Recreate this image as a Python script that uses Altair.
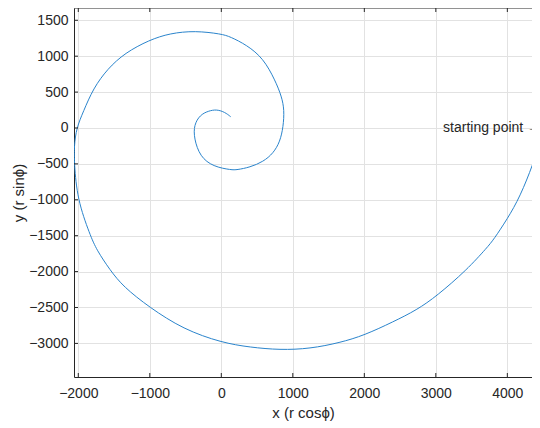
import altair as alt
import pandas as pd

# spiral points (outer start -> inner end)
x_vals = [4457, 4364, 4178, 4000, 3804, 3723, 3432, 3013, 2733, 2406, 2000, 1660, 1241, 821,
          401, 6, -531, -1007, -1371, -1557, -1743, -1836, -2014, -2056, -2058, -2025,
          -1930, -1790, -1590, -1348, -1007, -717, -368, 6, 122, 355, 587, 751, 845, 881,
          867, 821, 727, 587, 401, 215, 145, -112, -298, -382, -382, -298, -182, -64, 52, 131]
y_vals = [-191, -492, -957, -1267, -1560, -1658, -1978, -2340, -2535, -2698, -2887, -2990, -3074, -3092,
          -3054, -2990, -2804, -2497, -2210, -1978, -1699, -1490, -993, -492, -250, 0,
          227, 553, 825, 1045, 1226, 1319, 1355, 1309, 1272, 1156, 971, 669, 436, 251,
          18, -191, -352, -469, -547, -583, -585, -539, -400, -143, 42, 181, 237, 260, 219, 157]

x_ticks = [-2000, -1000, 0, 1000, 2000, 3000, 4000]
y_ticks = [-3000, -2500, -2000, -1500, -1000, -500, 0, 500, 1000, 1500]

label_text = ["starting point \u2192"]
label_x = [3101]
label_y = [0]

W, H = 458, 369
XDOM = [-2060, 4345]
YDOM = [-3468, 1671]
INK = "#262626"
FONT = "Liberation Sans"

df = pd.DataFrame({"x": x_vals, "y": y_vals, "i": list(range(len(x_vals)))})
xs = alt.Scale(domain=XDOM, nice=False, zero=False)
ys = alt.Scale(domain=YDOM, nice=False, zero=False)

common = dict(labelFont=FONT, labelFontSize=14, labelColor=INK, format="d",
              titleFont=FONT, titleFontSize=15, titleColor=INK, titleFontWeight="normal",
              domainColor=INK, domainWidth=1, tickSize=0, grid=True,
              gridColor="#e2e2e2", gridWidth=1, labelFlush=False)

spiral = alt.Chart(df).mark_line(color="#2a84cc", strokeWidth=1, interpolate="basis", clip=True).encode(
    x=alt.X("x:Q", scale=xs, axis=alt.Axis(values=x_ticks, title="x (r cos\u03d5)", labelPadding=9, titlePadding=5, **common)),
    y=alt.Y("y:Q", scale=ys, axis=alt.Axis(values=y_ticks, title="y (r sin\u03d5)", labelPadding=6, titlePadding=2, **common)),
    order="i:Q",
)

ytk = alt.Chart(pd.DataFrame({"y": y_ticks})).mark_rule(color=INK, strokeWidth=1).encode(
    y=alt.Y("y:Q", scale=ys), x=alt.value(0), x2=alt.value(4))
xtk_b = alt.Chart(pd.DataFrame({"x": x_ticks})).mark_rule(color=INK, strokeWidth=1).encode(
    x=alt.X("x:Q", scale=xs), y=alt.value(H), y2=alt.value(H - 4))
xtk_t = alt.Chart(pd.DataFrame({"x": x_ticks})).mark_rule(color=INK, strokeWidth=1).encode(
    x=alt.X("x:Q", scale=xs), y=alt.value(0), y2=alt.value(4))
top = alt.Chart(pd.DataFrame({"a": [0]})).mark_rule(color=INK, strokeWidth=1).encode(
    x=alt.value(0), x2=alt.value(W), y=alt.value(0))

txt = alt.Chart(pd.DataFrame({"x": label_x, "y": label_y, "t": label_text})).mark_text(
    align="left", baseline="middle", fontSize=14, font=FONT, color=INK).encode(
    x=alt.X("x:Q", scale=xs), y=alt.Y("y:Q", scale=ys), text="t:N")

chart = alt.layer(spiral, ytk, xtk_b, xtk_t, top, txt).properties(
    width=W, height=H,
    padding={"left": 66, "top": 0, "right": 0, "bottom": 50},
    autosize=alt.AutoSizeParams(type="none"),
    background="white",
).configure_view(stroke=None)

chart.save("out.html", embed_options={"renderer": "svg", "actions": False})
